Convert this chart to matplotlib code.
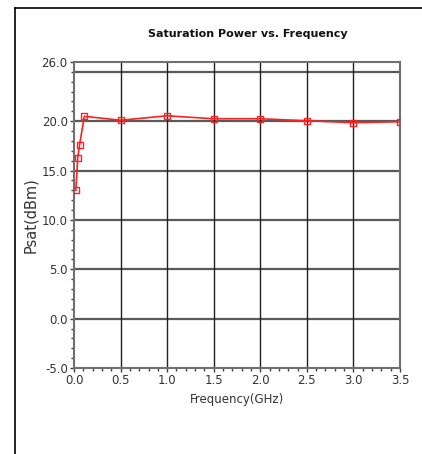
import matplotlib.pyplot as plt
from matplotlib.lines import Line2D
from matplotlib.ticker import MultipleLocator, FixedLocator

# measured saturation power
freq_ghz = [0.02, 0.04, 0.06, 0.11, 0.5, 1.0, 1.5, 2.0, 2.5, 3.0, 3.5]
psat_dbm = [13.0, 16.3, 17.6, 20.5, 20.1, 20.55, 20.25, 20.25, 20.05, 19.85, 19.95]

y_ticks = [-5.0, 0.0, 5.0, 10.0, 15.0, 20.0, 26.0]
y_grid = [0.0, 5.0, 10.0, 15.0, 20.0, 25.0]
x_ticks = [0.0, 0.5, 1.0, 1.5, 2.0, 2.5, 3.0, 3.5]

W, H = 422, 454
fig = plt.figure(figsize=(W / 100, H / 100), dpi=100)
ax = fig.add_axes([74 / W, 1 - 368 / H, 326 / W, 306 / H])

for y in y_grid:
    ax.axhline(y, color='#5a5a5a', lw=1.6, zorder=1)
for x in x_ticks[1:-1]:
    ax.axvline(x, color='#202020', lw=1.0, zorder=1)

ax.plot(freq_ghz, psat_dbm, color='#ff2020', lw=1.2, marker='s', ms=4.5,
        mfc='none', mec='#ff2020', mew=1.0, zorder=3)

ax.set_xlim(0, 3.5)
ax.set_ylim(-5, 26)
ax.yaxis.set_major_locator(FixedLocator(y_ticks))
ax.yaxis.set_minor_locator(MultipleLocator(1.0))
ax.xaxis.set_major_locator(FixedLocator(x_ticks))
ax.xaxis.set_minor_locator(MultipleLocator(0.1))
ax.set_yticklabels([f'{v:.1f}' for v in y_ticks])
ax.set_xticklabels([f'{v:.1f}' for v in x_ticks])
ax.tick_params(which='major', length=3, width=1, color='#404040', labelsize=8.5,
               labelcolor='#333333', pad=1.5)
ax.tick_params(which='minor', length=2, width=1, color='#404040')

for side in ['left', 'bottom', 'top', 'right']:
    ax.spines[side].set_color('#707070')
    ax.spines[side].set_linewidth(1.5)

ax.set_xlabel('Frequency(GHz)', fontsize=8.5, color='#333333', labelpad=4)
ax.set_ylabel('Psat(dBm)', fontsize=10.5, color='#333333')
ax.yaxis.set_label_coords(-0.11, 0.5)
fig.text(248 / W, 1 - 34 / H, 'Saturation Power vs. Frequency', ha='center',
         va='center', fontsize=8, fontweight='bold', color='#111111')

# page frame around the chart
fig.add_artist(Line2D([15 / W, 15 / W], [0, 1 - 8 / H], color='black', lw=1.2,
                      transform=fig.transFigure))
fig.add_artist(Line2D([15 / W, 1], [1 - 8 / H, 1 - 8 / H], color='black', lw=1.2,
                      transform=fig.transFigure))

fig.savefig('out.png', dpi=100)
